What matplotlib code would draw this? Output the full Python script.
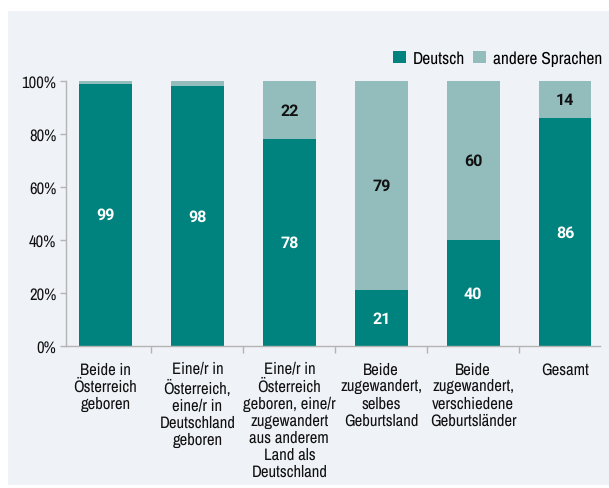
import matplotlib
matplotlib.use("Agg")
import matplotlib.pyplot as plt
from matplotlib import font_manager
from matplotlib.patches import Rectangle, Patch
import numpy as np

# data
categories = [
    "Beide in\nÖsterreich\ngeboren",
    "Eine/r in\nÖsterreich,\neine/r in\nDeutschland\ngeboren",
    "Eine/r in\nÖsterreich\ngeboren, eine/r\nzugewandert\naus anderem\nLand als\nDeutschland",
    "Beide\nzugewandert,\nselbes\nGeburtsland",
    "Beide\nzugewandert,\nverschiedene\nGeburtsländer",
    "Gesamt",
]
deutsch = [99, 98, 78, 21, 40, 86]
andere = [1, 2, 22, 79, 60, 14]
show_andere = [False, False, True, True, True, True]
series_names = ["Deutsch", "andere Sprachen"]
yticks = [0, 20, 40, 60, 80, 100]

c_de = "#00837e"
c_an = "#93bdbc"
bg = "#eff2f7"
spine_c = "#b4b4b4"

# the reference uses a condensed sans; take one if installed
fonts = font_manager.fontManager.ttflist
names = sorted({f.name for f in fonts})
narrow = [n for n in names if "Narrow" in n or "Condensed" in n]
fam = narrow[0] if narrow else "Roboto"
plt.rcParams["font.family"] = [fam, "DejaVu Sans"]
plt.rcParams["text.hinting"] = "no_hinting"
# bold numbers: same family if it has a bold face, else Roboto
has_bold = any(f.name == fam and f.weight in ("bold", 700) for f in fonts)
num_fam = [fam, "DejaVu Sans"] if has_bold else ["Roboto", "DejaVu Sans"]

fig = plt.figure(figsize=(6.09, 4.89), dpi=100, facecolor="white")
# light panel behind the chart
fig.patches.append(Rectangle((8 / 609, 1 - 486 / 489), 1, (486 - 12) / 489,
                             transform=fig.transFigure, facecolor=bg,
                             edgecolor="none", zorder=-5))

ax = fig.add_axes([66 / 609, 1 - 347 / 489, 534 / 609, 265 / 489])
ax.set_facecolor("none")

x = np.arange(len(categories))
w = 0.575
ax.bar(x, deutsch, width=w, color=c_de, zorder=2)
ax.bar(x, andere, width=w, bottom=deutsch, color=c_an, zorder=2)

for i in range(len(categories)):
    ax.text(x[i], deutsch[i] / 2, str(deutsch[i]), ha="center", va="center",
            color="white", fontsize=11.5, fontweight="bold", family=num_fam)
    if show_andere[i]:
        ax.text(x[i], deutsch[i] + andere[i] / 2, str(andere[i]), ha="center",
                va="center", color="#111111", fontsize=11.5,
                fontweight="bold", family=num_fam)

ax.set_xlim(-0.43, 5.38)
ax.set_ylim(0, 100)
ax.set_yticks(yticks)
ax.set_yticklabels([f"{v}%" for v in yticks], fontsize=12, color="#111111")

# category labels centred under bars, tick marks between bars
ax.set_xticks(x)
ax.set_xticklabels(categories, fontsize=12, color="#111111",
                   va="top", linespacing=1.17)
ax.tick_params(axis="x", length=0, pad=11)
ax.set_xticks(x[:-1] + 0.5, minor=True)
ax.tick_params(axis="x", which="minor", length=5, color=spine_c, width=1)
ax.tick_params(axis="y", length=4, color=spine_c, width=1, pad=3)

for s in ["top", "right"]:
    ax.spines[s].set_visible(False)
for s in ["left", "bottom"]:
    ax.spines[s].set_color(spine_c)
    ax.spines[s].set_linewidth(1)

handles = [Patch(facecolor=c_de), Patch(facecolor=c_an)]
fig.legend(handles, series_names, loc="upper right",
           bbox_to_anchor=(614 / 609, 1 - 39 / 489), ncol=2, frameon=False,
           fontsize=12.5, handlelength=0.7, handleheight=0.7,
           handletextpad=0.4, columnspacing=0.5, borderpad=0.2)

fig.savefig("out.png", dpi=100, facecolor="white")
